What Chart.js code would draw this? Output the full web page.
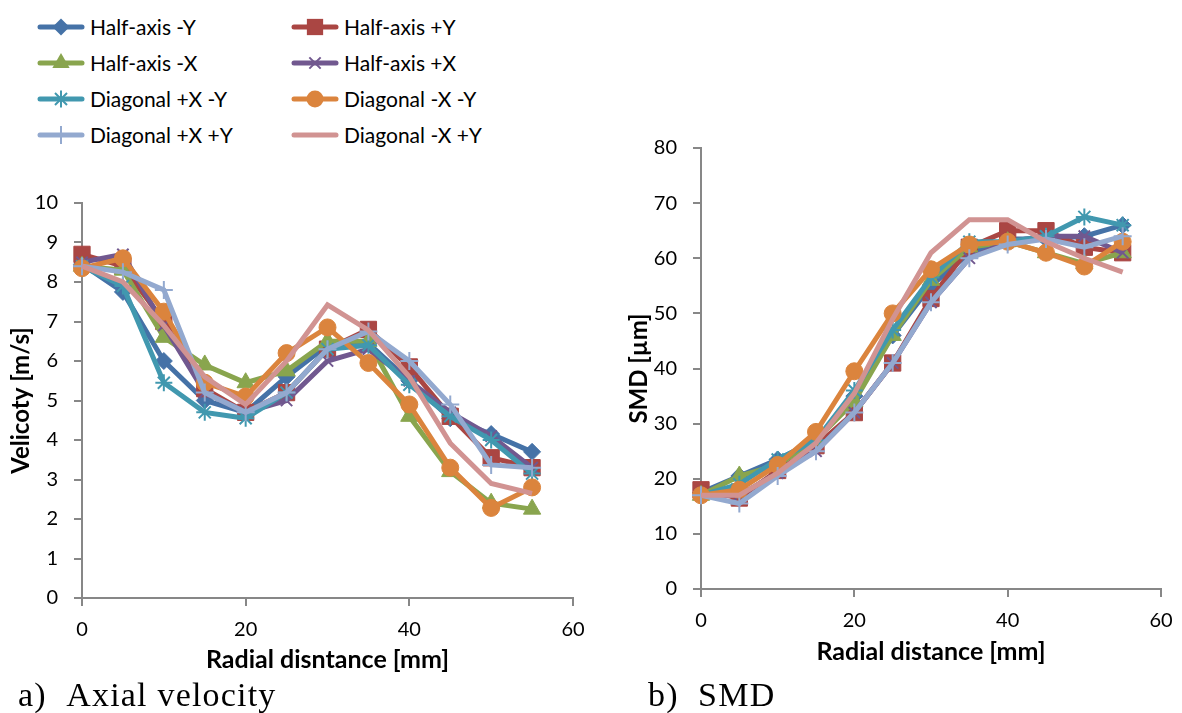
<!DOCTYPE html>
<html>
<head>
<meta charset="utf-8">
<script src="https://cdn.jsdelivr.net/npm/chart.js@4.4.1/dist/chart.umd.min.js"></script>
<style>
  html, body { margin:0; padding:0; background:#fff; width:1182px; height:713px; overflow:hidden; }
  .abs { position:absolute; }
  .leg { position:absolute; font-family:"Lato","Open Sans",sans-serif; font-size:21px; color:#000; white-space:nowrap; }
  .cap { position:absolute; font-family:"Liberation Serif","Times New Roman",serif; font-size:34px; line-height:34px; letter-spacing:1.2px; color:#000; white-space:nowrap; }
</style>
</head>
<body>
<div class="abs" style="left:0;top:190px;width:590px;height:490px;"><canvas id="c1" width="590" height="490"></canvas></div>
<div class="abs" style="left:600px;top:130px;width:582px;height:550px;"><canvas id="c2" width="582" height="550"></canvas></div>
<div class="cap" style="left:18px;top:678px;">a)&nbsp;&nbsp;Axial velocity</div>
<div class="cap" style="left:648px;top:678px;">b)&nbsp;&nbsp;SMD</div>
<script>
// ---------- data ----------
const radial = [0, 5, 10, 15, 20, 25, 30, 35, 40, 45, 50, 55];
const seriesNames = ["Half-axis -Y", "Half-axis +Y", "Half-axis -X", "Half-axis +X",
                     "Diagonal +X -Y", "Diagonal -X -Y", "Diagonal +X +Y", "Diagonal -X +Y"];

const velHalfNegY = [8.45, 7.75, 6.0, 5.0, 4.7, 5.6, 6.4, 6.45, 5.5, 4.55, 4.15, 3.7];
const velHalfPosY = [8.7, 8.4, 7.0, 5.3, 4.7, 5.2, 6.3, 6.8, 5.85, 4.6, 3.55, 3.3];
const velHalfNegX = [8.4, 8.3, 6.6, 5.9, 5.45, 5.75, 6.5, 6.5, 4.6, 3.2, 2.4, 2.25];
const velHalfPosX = [8.5, 8.7, 6.9, 5.2, 4.7, 5.0, 6.0, 6.3, 5.5, 4.7, 4.1, 3.3];
const velDiagPXNY = [8.4, 7.9, 5.45, 4.7, 4.55, 5.2, 6.3, 6.4, 5.4, 4.6, 4.0, 3.15];
const velDiagNXNY = [8.35, 8.6, 7.25, 5.45, 5.1, 6.2, 6.85, 5.95, 4.9, 3.3, 2.28, 2.8];
const velDiagPXPY = [8.4, 8.25, 7.8, 5.2, 4.7, 5.2, 6.3, 6.75, 6.0, 4.9, 3.37, 3.3];
const velDiagNXPY = [8.4, 8.0, 6.9, 5.6, 4.9, 6.0, 7.42, 6.78, 5.6, 3.92, 2.9, 2.65];

const smdHalfNegY = [17.5, 20.5, 23.5, 27, 35, 46, 55, 61, 63.5, 63.5, 64, 66];
const smdHalfPosY = [18, 16.5, 21.5, 26, 32, 41, 52.7, 62, 65, 65, 62, 61];
const smdHalfNegX = [17, 20.5, 22.5, 27, 34, 46, 56, 62, 63, 61, 59, 61];
const smdHalfPosX = [17, 17, 21, 25, 32, 41, 52, 60, 63, 64, 64, 61];
const smdDiagPXNY = [17, 19, 23.5, 27, 36, 47, 56.5, 63, 63, 64, 67.5, 66];
const smdDiagNXNY = [17, 18, 22.5, 28.5, 39.5, 50, 58, 62.5, 63, 61, 58.5, 63];
const smdDiagPXPY = [17, 15.5, 20.5, 25, 32, 41, 52, 60, 62.5, 63.5, 62, 64];
const smdDiagNXPY = [17, 17, 21, 26.5, 35.5, 49, 61, 67, 67, 63, 60, 57.5];

const xTicks = [0, 20, 40, 60];
const velTicks = [0, 1, 2, 3, 4, 5, 6, 7, 8, 9, 10];
const smdTicks = [0, 10, 20, 30, 40, 50, 60, 70, 80];

// ---------- styles ----------
const colors = ["#4572A7", "#AA4643", "#89A54E", "#71588F", "#4198AF", "#DB843D", "#93A9CF", "#D19392"];
const markers = [
  {style:"rectRot", r:8.5, bw:1},
  {style:"rect", r:11.5, bw:1},
  {style:"triangle", r:10, bw:1},
  {style:"crossRot", r:8, bw:2},
  {style:"star", r:8.5, bw:2},
  {style:"circle", r:8.5, bw:1},
  {style:"cross", r:9, bw:2},
  {style:false, r:0, bw:0}
];

function makeDatasets(arrs) {
  return arrs.map((arr, i) => ({
    label: seriesNames[i],
    data: radial.map((x, k) => ({x: x, y: arr[k]})),
    borderColor: colors[i],
    backgroundColor: colors[i],
    borderWidth: 5,
    pointStyle: markers[i].style || "circle",
    pointRadius: markers[i].r,
    pointBorderWidth: markers[i].bw,
    pointBorderColor: colors[i],
    pointBackgroundColor: colors[i],
    pointHoverRadius: markers[i].r,
    tension: 0,
    clip: false,
    order: 7 - i
  }));
}

const axisGray = "#878787";
const xTitleFont = {family:"Lato", size:25, weight:"bold"};
const yTitleFont = {family:"Lato", size:24, weight:"bold"};
function xScale(titleText, padBottom) {
  return {
    type: "linear", min: 0, max: 60,
    afterBuildTicks: s => { s.ticks = xTicks.map(v => ({value: v})); },
    afterFit: s => { s.height = s.chart.options.xH; s.paddingLeft = 0; s.paddingRight = 0; },
    ticks: { color:"#000", font:{family:"Lato", size:20}, padding: 12 },
    grid: { display:true, drawOnChartArea:false, drawTicks:true, tickLength:8, color:axisGray, lineWidth:2 },
    border: { display:true, color:axisGray, width:2 },
    title: { display:true, text:titleText, color:"#000", font:xTitleFont, padding:{top:0,bottom:padBottom} }
  };
}
function yScale(ticksArr, min, max, titleText, titlePadTop) {
  return {
    type: "linear", min: min, max: max,
    afterBuildTicks: s => { s.ticks = ticksArr.map(v => ({value: v})); },
    afterFit: s => { s.width = s.chart.options.yW; s.paddingTop = 0; s.paddingBottom = 0; },
    ticks: { color:"#000", font:{family:"Lato", size:20}, padding: 16 },
    grid: { display:true, drawOnChartArea:false, drawTicks:true, tickLength:8, color:axisGray, lineWidth:2 },
    border: { display:true, color:axisGray, width:2 },
    title: { display:true, text:titleText, color:"#000", font:yTitleFont, padding:{top:titlePadTop, bottom:0} }
  };
}

const common = {
  responsive: false,
  animation: false,
  events: [],
  plugins: { legend: {display:false}, tooltip: {enabled:false} }
};

new Chart(document.getElementById("c1"), {
  type: "line",
  data: { datasets: makeDatasets([velHalfNegY, velHalfPosY, velHalfNegX, velHalfPosX, velDiagPXNY, velDiagNXNY, velDiagPXPY, velDiagNXPY]) },
  options: Object.assign({}, common, {
    xH: 82, yW: 82,
    layout: { padding: {left:0, right:17, top:13, bottom:0} },
    scales: {
      x: xScale("Radial disntance [mm]", 5),
      y: yScale(velTicks, 0, 10, "Velicoty [m/s]", 7)
    }
  })
});

new Chart(document.getElementById("c2"), {
  type: "line",
  data: { datasets: makeDatasets([smdHalfNegY, smdHalfPosY, smdHalfNegX, smdHalfPosX, smdDiagPXNY, smdDiagNXNY, smdDiagPXPY, smdDiagNXPY]) },
  options: Object.assign({}, common, {
    xH: 91, yW: 101,
    layout: { padding: {left:0, right:21, top:18, bottom:0} },
    scales: {
      x: xScale("Radial distance [mm]", 13),
      y: yScale(smdTicks, 0, 80, "SMD [µm]", 25)
    }
  })
});

// ---------- legend (HTML) ----------
function drawIcon(ctx, i) {
  const c = colors[i], m = markers[i];
  const cx = 24, cy = 11;
  ctx.strokeStyle = c; ctx.fillStyle = c;
  ctx.lineWidth = 5; ctx.lineCap = "round";
  ctx.beginPath(); ctx.moveTo(3, cy); ctx.lineTo(45, cy); ctx.stroke();
  ctx.lineCap = "butt";
  const r = m.r;
  ctx.beginPath();
  switch (m.style) {
    case "rectRot": ctx.moveTo(cx, cy - r); ctx.lineTo(cx + r, cy); ctx.lineTo(cx, cy + r); ctx.lineTo(cx - r, cy); ctx.closePath(); ctx.fill(); break;
    case "rect": { const s = r * Math.SQRT1_2; ctx.fillRect(cx - s, cy - s, 2*s, 2*s); break; }
    case "triangle": ctx.moveTo(cx, cy - r); ctx.lineTo(cx + r*0.866, cy + r*0.5); ctx.lineTo(cx - r*0.866, cy + r*0.5); ctx.closePath(); ctx.fill(); break;
    case "circle": ctx.arc(cx, cy, r, 0, Math.PI*2); ctx.fill(); break;
    case "crossRot": { const s = r*0.707; ctx.lineWidth = 2; ctx.moveTo(cx-s, cy-s); ctx.lineTo(cx+s, cy+s); ctx.moveTo(cx+s, cy-s); ctx.lineTo(cx-s, cy+s); ctx.stroke(); break; }
    case "star": { const s = r*0.707; ctx.lineWidth = 2; ctx.moveTo(cx-s, cy-s); ctx.lineTo(cx+s, cy+s); ctx.moveTo(cx+s, cy-s); ctx.lineTo(cx-s, cy+s); ctx.moveTo(cx, cy-r); ctx.lineTo(cx, cy+r); ctx.moveTo(cx-r, cy); ctx.lineTo(cx+r, cy); ctx.stroke(); break; }
    case "cross": ctx.lineWidth = 2; ctx.moveTo(cx, cy-r); ctx.lineTo(cx, cy+r); ctx.moveTo(cx-r, cy); ctx.lineTo(cx+r, cy); ctx.stroke(); break;
  }
}
seriesNames.forEach((name, i) => {
  const col = i % 2, row = Math.floor(i / 2);
  const lx = col === 0 ? 37 : 291;
  const ly = 16 + row * 36;
  const cv = document.createElement("canvas");
  cv.width = 50; cv.height = 22;
  cv.className = "abs";
  cv.style.left = lx + "px"; cv.style.top = ly + "px";
  document.body.appendChild(cv);
  drawIcon(cv.getContext("2d"), i);
  const t = document.createElement("div");
  t.className = "leg";
  t.textContent = name;
  t.style.left = (lx + 53) + "px";
  t.style.top = (ly - 2) + "px";
  document.body.appendChild(t);
});
</script>
</body>
</html>
